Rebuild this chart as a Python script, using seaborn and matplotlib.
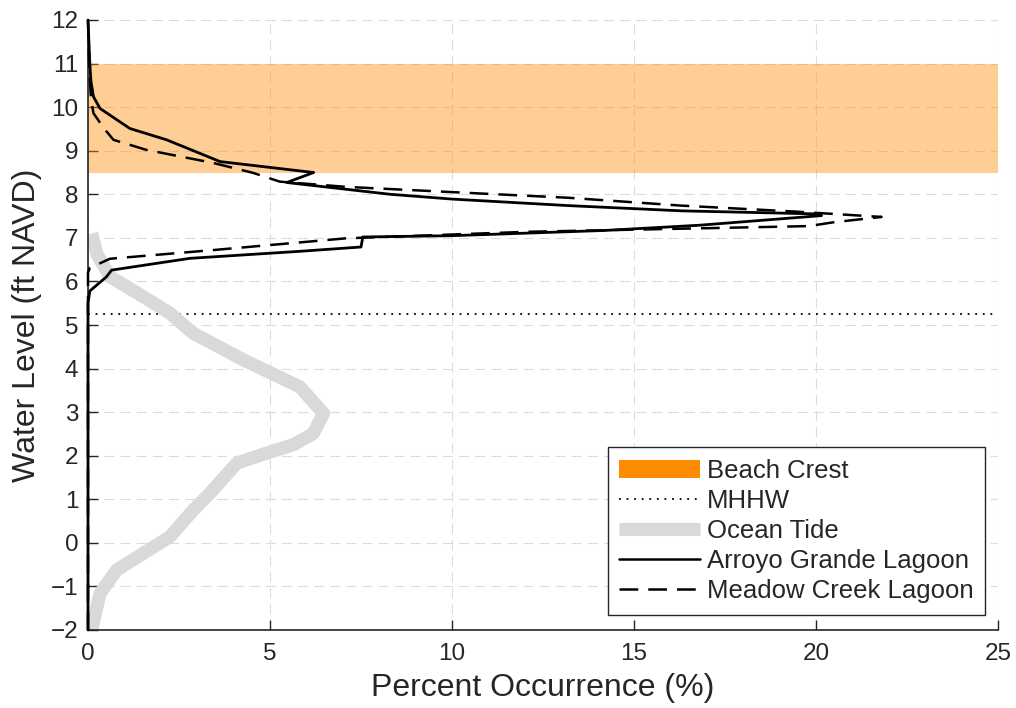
import seaborn as sns
import matplotlib.pyplot as plt
from matplotlib.patches import Patch
from matplotlib.lines import Line2D

# beach crest band and MHHW (ft NAVD)
crest_lo = 8.5
crest_hi = 11.0
mhhw = 5.25

# Arroyo Grande Lagoon (solid)
ag_pct = [0.0, 0.05, 0.08, 0.15, 0.33, 1.15, 2.16, 3.63, 6.2, 5.46, 8.3, 10.0, 13.2, 16.3,
          20.0, 20.15, 16.8, 14.2, 10.0, 7.55, 7.5, 5.8, 2.8, 0.65, 0.5, 0.05, 0.0, 0.0]
ag_wl = [12.0, 11.0, 10.6, 10.24, 9.97, 9.51, 9.25, 8.75, 8.5, 8.27, 8.0, 7.89, 7.74, 7.62,
         7.55, 7.51, 7.29, 7.17, 7.05, 7.02, 6.79, 6.69, 6.53, 6.26, 6.1, 5.78, 5.5, -2.0]

# Meadow Creek Lagoon (dashed)
mc_pct = [0.0, 0.03, 0.08, 0.15, 0.45, 0.7, 1.6, 3.44, 4.54, 5.27, 7.1, 10.0, 13.2, 16.3,
          19.5, 21.8, 20.5, 19.8, 16.3, 12.1, 7.1, 3.44, 0.6, 0.05, 0.0, 0.0]
mc_wl = [12.0, 11.0, 10.2, 9.86, 9.5, 9.25, 9.02, 8.72, 8.49, 8.29, 8.17, 8.05, 7.92, 7.74,
         7.6, 7.48, 7.36, 7.27, 7.21, 7.14, 6.99, 6.72, 6.52, 6.31, 6.2, -2.0]

# Ocean tide (thick grey)
tide_pct = [0.1, 0.24, 0.6, 1.52, 2.25, 2.89, 4.27, 5.82, 6.47, 6.19, 5.64, 4.91, 4.09,
            3.35, 2.89, 2.25, 1.52, 0.79, 0.33, 0.1]
tide_wl = [7.1, 6.64, 6.11, 5.65, 5.27, 4.81, 4.2, 3.58, 2.97, 2.51, 2.25, 2.06, 1.83,
           1.14, 0.75, 0.14, -0.24, -0.62, -1.16, -2.0]

sns.set_theme(style='ticks')
plt.rcParams['font.family'] = ['Liberation Sans', 'DejaVu Sans']
txt = '#262626'

fig = plt.figure(figsize=(10.16, 7.08), dpi=100)
ax = fig.add_axes([88/1016, 1 - 630/708, 910/1016, 610/708])
ax.set_axisbelow(True)

ax.axhspan(crest_lo, crest_hi, color='#FF8C00', alpha=0.42, lw=0)
ax.axhline(mhhw, color='black', lw=1.3, linestyle=(0, (1, 3.2)))

sns.lineplot(x=tide_pct, y=tide_wl, sort=False, estimator=None, color='#d9d9d9',
             lw=9.5, ax=ax, solid_capstyle='butt', solid_joinstyle='round')
sns.lineplot(x=ag_pct, y=ag_wl, sort=False, estimator=None, color='black', lw=2.0,
             ax=ax, clip_on=False, zorder=3)
sns.lineplot(x=mc_pct, y=mc_wl, sort=False, estimator=None, color='black', lw=1.8,
             ax=ax, linestyle=(0, (7.5, 4)), clip_on=False, zorder=3)

ax.set_xlim(0, 25)
ax.set_ylim(-2, 12)
ax.set_xticks(range(0, 26, 5))
ax.set_yticks(range(-2, 13))
ax.grid(True, color='#dcdcdc', lw=0.8, linestyle=(0, (9, 5.5)))
sns.despine(ax=ax)
for s in ['left', 'bottom']:
    ax.spines[s].set_color(txt)
    ax.spines[s].set_linewidth(1.2)
ax.tick_params(direction='in', length=7, width=1, color=txt, labelcolor=txt,
               labelsize=17.5, pad=7)
ax.tick_params(axis='x', pad=9)

ax.set_xlabel('Percent Occurrence (%)', fontsize=23, color=txt, labelpad=6)
ax.set_ylabel('Water Level (ft NAVD)', fontsize=23, color=txt, labelpad=6)

handles = [
    Patch(facecolor='#FF8C00', edgecolor='none'),
    Line2D([], [], color='black', lw=1.3, linestyle=(0, (1, 3.2))),
    Line2D([], [], color='#d9d9d9', lw=9.5, solid_capstyle='butt'),
    Line2D([], [], color='black', lw=1.8),
    Line2D([], [], color='black', lw=1.8, linestyle=(0, (7.5, 4))),
]
labels = ['Beach Crest', 'MHHW', 'Ocean Tide', 'Arroyo Grande Lagoon', 'Meadow Creek Lagoon']
leg = ax.legend(handles, labels, loc='lower right', bbox_to_anchor=(0.9857, 0.0246),
                fontsize=18.5, frameon=True, fancybox=False, framealpha=1,
                edgecolor=txt, handlelength=3.15, handleheight=0.7, handletextpad=0.25,
                labelspacing=0.24, borderpad=0.45, borderaxespad=0)
leg.get_frame().set_linewidth(1.0)
for t in leg.get_texts():
    t.set_color(txt)

fig.savefig('out.png', dpi=100)
